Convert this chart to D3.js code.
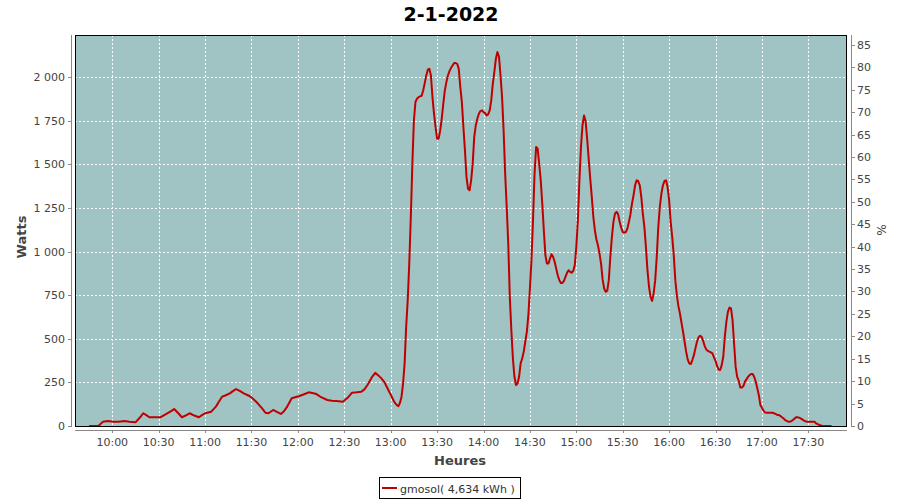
<!DOCTYPE html>
<html><head><meta charset="utf-8">
<script src="https://cdn.jsdelivr.net/npm/d3@7/dist/d3.min.js"></script>
<style>body{margin:0;background:#fff}text{font-family:"DejaVu Sans",sans-serif}</style>
</head><body><svg id="c" width="900" height="500"></svg>
<script>
const title = "2-1-2022";
const seriesName = "gmosol";
const energyLabel = "4,634 kWh";
const yLeftLabel = "Watts";
const yRightLabel = "%";
const xLabel = "Heures";

const times = [
"09:45","09:51","09:54","09:57","10:01","10:04","10:08","10:11","10:15","10:18","10:20","10:22","10:24","10:31","10:35","10:38","10:40","10:43","10:45","10:48","10:50","10:53","10:56","10:58",
"11:00","11:04","11:07","11:09","11:11","11:13","11:16","11:18","11:20","11:23","11:25","11:28","11:30","11:32","11:34","11:37","11:39","11:41","11:44","11:47","11:49","11:51","11:53","11:56",
"12:01","12:04","12:07","12:10","12:12","12:15","12:19","12:22","12:25","12:29","12:32","12:35","12:38","12:41","12:43","12:45","12:48","12:50","12:52","12:54","12:56","12:58",
"13:00","13:01","13:02","13:03","13:04","13:05","13:06","13:07","13:08","13:09","13:10","13:11","13:12","13:13","13:14","13:15","13:16","13:17","13:18","13:19","13:20","13:21","13:22","13:23","13:24","13:25","13:26","13:27","13:28","13:29","13:30","13:31","13:32","13:33","13:34","13:35","13:36","13:37","13:38","13:39","13:40","13:41","13:42","13:43","13:44","13:45","13:46","13:47","13:48","13:49","13:50","13:51","13:52","13:53","13:54","13:55","13:56","13:57","13:58","13:59",
"14:00","14:01","14:02","14:03","14:04","14:05","14:06","14:07","14:08","14:09","14:10","14:11","14:12","14:13","14:14","14:15","14:16","14:17","14:18","14:19","14:20","14:21","14:22","14:23","14:24","14:25","14:26","14:27","14:28","14:29","14:30","14:31","14:32","14:33","14:34","14:35","14:36","14:37","14:38","14:39","14:40","14:41","14:42","14:43","14:44","14:45","14:46","14:47","14:48","14:49","14:50","14:51","14:52","14:53","14:54","14:55","14:56","14:57","14:58","14:59",
"15:00","15:01","15:02","15:03","15:04","15:05","15:06","15:07","15:08","15:09","15:10","15:11","15:12","15:13","15:14","15:15","15:16","15:17","15:18","15:19","15:20","15:21","15:22","15:23","15:24","15:25","15:26","15:27","15:28","15:29","15:30","15:31","15:32","15:33","15:34","15:35","15:36","15:37","15:38","15:39","15:40","15:41","15:42","15:43","15:44","15:45","15:46","15:47","15:48","15:49","15:50","15:51","15:52","15:53","15:54","15:55","15:56","15:57","15:58","15:59",
"16:00","16:01","16:02","16:03","16:04","16:05","16:06","16:07","16:08","16:09","16:10","16:11","16:12","16:13","16:14","16:15","16:16","16:17","16:18","16:19","16:20","16:21","16:22","16:23","16:24","16:25","16:26","16:27","16:28","16:29","16:30","16:31","16:32","16:33","16:34","16:35","16:36","16:37","16:38","16:39","16:40","16:41","16:42","16:43","16:44","16:45","16:46","16:47","16:48","16:49","16:50","16:51","16:52","16:53","16:54","16:55","16:56","16:57","16:58","16:59",
"17:00","17:01","17:02","17:03","17:04","17:05","17:06","17:07","17:08","17:09","17:10","17:11","17:12","17:13","17:14","17:15","17:16","17:17","17:18","17:19","17:20","17:21","17:22","17:23","17:24","17:25","17:26","17:27","17:28","17:29","17:30","17:31","17:32","17:33","17:34","17:35","17:36","17:37","17:38","17:39","17:45"
];
const watts = [
0,0,25,29,25,25,29,25,21,50,73,62,50,50,69,85,97,70,50,62,73,60,50,62,
73,82,111,140,168,175,187,200,212,198,187,175,164,148,130,100,76,73,92,78,69,85,110,159,
172,182,193,188,183,165,149,145,143,139,160,191,193,196,210,235,282,305,290,273,250,215,
180,162,143,130,120,114,133,168,244,359,569,721,931,1198,1503,1752,1857,1876,1885,1889,1893,1923,1965,2009,2042,2047,2009,1885,1790,1713,1647,1647,1694,1761,1847,1923,1971,2009,2034,2053,2066,2080,2080,2076,2047,1942,1857,1713,1580,1427,1360,1351,1408,1503,1656,1723,1761,1790,1805,1809,
1799,1793,1780,1786,1809,1866,1961,2028,2105,2143,2118,2009,1885,1694,1446,1255,1045,740,549,387,282,235,244,282,359,387,425,483,540,635,788,950,1179,1446,1599,1589,1503,1408,1274,1122,979,931,931,960,985,969,941,902,864,836,820,820,832,855,878,893,883,878,889,922,
1027,1179,1408,1599,1723,1780,1748,1647,1532,1418,1313,1198,1122,1069,1036,988,931,840,788,769,775,836,969,1084,1170,1217,1227,1214,1170,1137,1112,1108,1112,1131,1170,1214,1275,1322,1380,1408,1404,1380,1313,1217,1141,1027,893,798,740,717,760,836,969,1141,1256,1332,1380,1404,1408,1370,
1294,1170,1084,979,836,750,687,645,592,540,483,426,382,359,355,378,406,445,483,508,517,511,488,458,439,431,426,422,416,393,374,344,324,321,349,397,511,597,654,679,674,607,473,340,282,260,221,221,229,254,267,282,292,298,298,282,254,216,177,120,
105,88,78,76,76,76,76,76,72,69,63,63,57,50,44,34,29,25,25,27,34,42,50,50,48,44,38,32,27,25,25,25,25,25,25,15,11,6,4,0,0
];
const wattTicks = [0,250,500,750,1000,1250,1500,1750,2000];
const pctTicks = [0,5,10,15,20,25,30,35,40,45,50,55,60,65,70,75,80,85];
const timeTicks = ["10:00","10:30","11:00","11:30","12:00","12:30","13:00","13:30","14:00","14:30","15:00","15:30","16:00","16:30","17:00","17:30"];

const parse = d3.timeParse("%Y-%m-%d %H:%M:%S");
const P = t => parse("2022-01-02 " + (t.length === 5 ? t + ":00" : t));
const data = times.map((t, i) => ({t: P(t), v: watts[i]}));

const L = 75, R = 847, T = 35, B = 426;
const x = d3.scaleTime().domain([P("09:35:54"), P("17:55:00")]).range([L, R]);
const y = d3.scaleLinear().domain([0, 2241]).range([B, T]);
const y2 = d3.scaleLinear().domain([0, 87.2]).range([B, T]);

const loc = d3.formatLocale({decimal: ",", thousands: " ", grouping: [3], currency: ["", ""]});
const fmtW = loc.format(",d");
const fmtT = d3.timeFormat("%H:%M");

const svg = d3.select("#c");
svg.append("rect").attr("width", 900).attr("height", 500).attr("fill", "#fff");

// title
svg.append("text").attr("x", 451).attr("y", 21).attr("text-anchor", "middle")
  .style("font-size", "19px").style("font-weight", "bold").attr("fill", "#000").text(title);

// plot background
svg.append("rect").attr("x", L).attr("y", T).attr("width", R - L).attr("height", B - T).attr("fill", "#9fc4c3");

// grid
const g = svg.append("g").attr("shape-rendering", "crispEdges");
g.selectAll("line.v").data(timeTicks.map(P)).join("line")
  .attr("x1", d => Math.round(x(d)) + 0.5).attr("x2", d => Math.round(x(d)) + 0.5)
  .attr("y1", T).attr("y2", B).attr("stroke", "#fff").attr("stroke-dasharray", "2,2");
g.selectAll("line.h").data(wattTicks.filter(d => d > 0)).join("line")
  .attr("x1", L).attr("x2", R)
  .attr("y1", d => Math.round(y(d)) + 0.5).attr("y2", d => Math.round(y(d)) + 0.5)
  .attr("stroke", "#fff").attr("stroke-dasharray", "2,2");

// series line
svg.append("path").datum(data)
  .attr("d", d3.line().x(d => x(d.t)).y(d => y(d.v)))
  .attr("fill", "none").attr("stroke", "#c00000").attr("stroke-width", 2).attr("stroke-linejoin", "round");

// plot border
svg.append("rect").attr("x", L + 0.5).attr("y", T + 0.5).attr("width", R - L - 1).attr("height", B - T)
  .attr("fill", "none").attr("stroke", "#000").attr("shape-rendering", "crispEdges");

const axisColor = "#888", textColor = "#444";

// left axis
const la = svg.append("g").attr("shape-rendering", "crispEdges");
la.append("line").attr("x1", 71.5).attr("x2", 71.5).attr("y1", T).attr("y2", B + 1).attr("stroke", axisColor);
la.selectAll("line.t").data(wattTicks).join("line")
  .attr("x1", 68).attr("x2", 71).attr("y1", d => Math.round(y(d)) + 0.5).attr("y2", d => Math.round(y(d)) + 0.5).attr("stroke", axisColor);
svg.selectAll("text.yl").data(wattTicks).join("text")
  .attr("x", 65).attr("y", d => y(d) + 4).attr("text-anchor", "end")
  .style("font-size", "11px").attr("fill", textColor).text(d => fmtW(d));
svg.append("text").attr("transform", "translate(26,237) rotate(-90)").attr("text-anchor", "middle")
  .style("font-size", "13px").style("font-weight", "bold").attr("fill", textColor).text(yLeftLabel);

// right axis
const ra = svg.append("g").attr("shape-rendering", "crispEdges");
ra.append("line").attr("x1", 851.5).attr("x2", 851.5).attr("y1", T).attr("y2", B + 1).attr("stroke", axisColor);
ra.selectAll("line.t").data(pctTicks).join("line")
  .attr("x1", 852).attr("x2", 855).attr("y1", d => Math.round(y2(d)) + 0.5).attr("y2", d => Math.round(y2(d)) + 0.5).attr("stroke", axisColor);
svg.selectAll("text.yr").data(pctTicks).join("text")
  .attr("x", 857).attr("y", d => y2(d) + 4).attr("text-anchor", "start")
  .style("font-size", "11px").attr("fill", textColor).text(d => d);
svg.append("text").attr("transform", "translate(877,230) rotate(90)").attr("text-anchor", "middle")
  .style("font-size", "12px").attr("fill", textColor).text(yRightLabel);

// x axis
const xa = svg.append("g").attr("shape-rendering", "crispEdges");
xa.append("line").attr("x1", L).attr("x2", R).attr("y1", 430.5).attr("y2", 430.5).attr("stroke", axisColor);
xa.selectAll("line.t").data(timeTicks.map(P)).join("line")
  .attr("x1", d => Math.round(x(d)) + 0.5).attr("x2", d => Math.round(x(d)) + 0.5)
  .attr("y1", 431).attr("y2", 433).attr("stroke", axisColor);
svg.selectAll("text.xl").data(timeTicks.map(P)).join("text")
  .attr("x", d => x(d)).attr("y", 446).attr("text-anchor", "middle")
  .style("font-size", "11px").attr("fill", textColor).text(d => fmtT(d));
svg.append("text").attr("x", 460).attr("y", 465).attr("text-anchor", "middle")
  .style("font-size", "13px").style("font-weight", "bold").attr("fill", textColor).text(xLabel);

// legend
const lg = svg.append("g");
lg.append("rect").attr("x", 379.5).attr("y", 477.5).attr("width", 141).attr("height", 21)
  .attr("fill", "#fff").attr("stroke", "#000").attr("shape-rendering", "crispEdges");
lg.append("line").attr("x1", 382).attr("x2", 397).attr("y1", 488).attr("y2", 488)
  .attr("stroke", "#c00000").attr("stroke-width", 2);
lg.append("text").attr("x", 400).attr("y", 493).style("font-size", "11px").attr("fill", "#333")
  .text(seriesName + "( " + energyLabel + " )");
</script></body></html>
